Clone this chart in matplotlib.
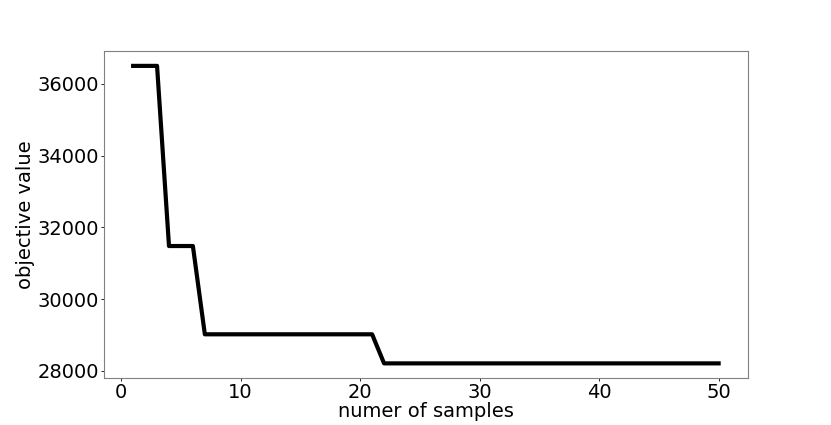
import matplotlib
matplotlib.use("Agg")
import matplotlib.pyplot as plt


# Data

samples = list(range(1, 51))

objective = (
    [36500] * 3
    + [31480] * 3
    + [29020] * 15
    + [28210] * 29
)


# Plot graph

fig, ax = plt.subplots(figsize=(8.31, 4.25), dpi=100)

ax.plot(samples, objective, color="black", linewidth=3)

ax.set_xlabel("numer of samples", fontsize=14, labelpad=0)
ax.set_ylabel("objective value", fontsize=14, labelpad=2)

ax.set_xticks([0, 10, 20, 30, 40, 50])
ax.set_yticks([28000, 30000, 32000, 34000, 36000])
ax.tick_params(labelsize=14, length=2, width=0.6, pad=1.5)

for spine in ax.spines.values():
    spine.set_color("gray")

fig.savefig("out.png", dpi=100)
